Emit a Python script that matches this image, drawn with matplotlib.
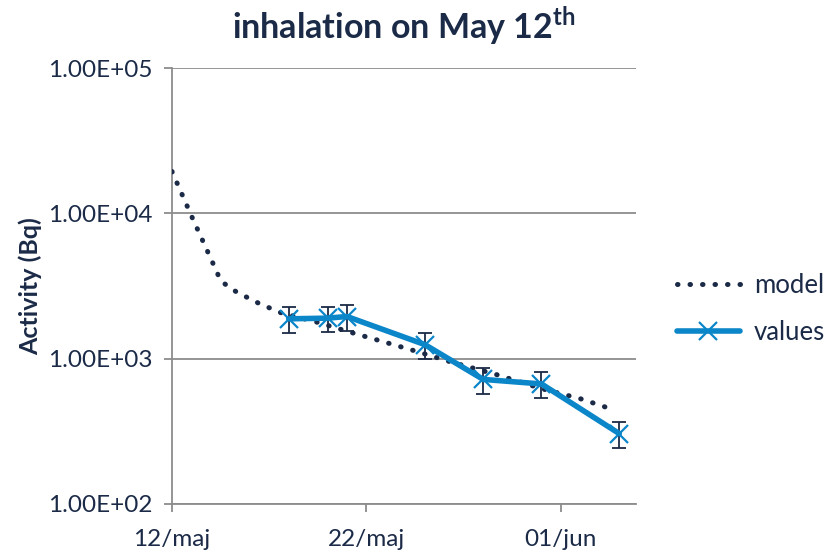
import numpy as np
import matplotlib
matplotlib.use("Agg")
import matplotlib.pyplot as plt
import matplotlib.dates as mdates
from datetime import datetime, timedelta

# model curve (days after 12 May, activity Bq)
model_days = [0, 1, 2, 2.5, 3, 3.4, 4.5, 5.6, 7.35, 9.1, 10.85, 12.6, 14.3, 16.7, 19, 21, 22.6]
model_vals = [19400, 9600, 4870, 3450, 3050, 2840, 2390, 2070, 1800, 1530, 1310, 1120, 953, 776, 622, 530, 450]

# measured values
meas_days = [6, 8, 9, 13, 16, 19, 23]
meas_vals = [1880, 1900, 1950, 1250, 720, 670, 305]
meas_err = [380, 380, 390, 250, 145, 135, 61]

start = datetime(2011, 5, 12)
mx = [start + timedelta(days=d) for d in model_days]
vx = [start + timedelta(days=d) for d in meas_days]

navy = "#1b2a47"
blue = "#0a86c9"
grey = "#8c8c8c"

plt.rcParams['font.family'] = ['Lato', 'DejaVu Sans']
plt.rcParams['mathtext.fontset'] = 'custom'
plt.rcParams['mathtext.bf'] = 'Lato:bold'
plt.rcParams['mathtext.rm'] = 'Lato'

fig = plt.figure(figsize=(8.25, 5.54), dpi=100)
ax = fig.add_axes([172/825, 50/554, 464/825, 436/554])

ax.plot(mx, model_vals, linestyle=(0, (0.1, 2.4)), dash_capstyle='round', color=navy, lw=3.6, label='model', zorder=3)
ax.errorbar(vx, meas_vals, yerr=meas_err, fmt='none', ecolor=navy, elinewidth=1.3, capsize=5, capthick=1.3, zorder=4)
ax.plot(vx, meas_vals, color=blue, lw=4, marker='x', markersize=13, markeredgewidth=1.6,
        markeredgecolor=blue, label='values', zorder=5, solid_capstyle='round')

ax.set_yscale('log')
ax.set_ylim(100, 100000)
ax.set_yticks([1e2, 1e3, 1e4, 1e5])
ax.set_yticklabels(['1.00E+02', '1.00E+03', '1.00E+04', '1.00E+05'])
ax.yaxis.set_minor_locator(matplotlib.ticker.NullLocator())
ax.set_xlim(start, start + timedelta(days=23.86))
xt = [start, start + timedelta(days=10), start + timedelta(days=20)]
ax.set_xticks(xt)
ax.set_xticklabels(['12/maj', '22/maj', '01/jun'])

ax.grid(axis='y', color=grey, lw=1.3)
ax.set_axisbelow(True)
for s in ['top', 'right']:
    ax.spines[s].set_visible(False)
for s in ['left', 'bottom']:
    ax.spines[s].set_color(grey)
    ax.spines[s].set_linewidth(1.3)
ax.tick_params(axis='both', colors=grey, labelcolor=navy, labelsize=17.5, length=6, width=1.3)
ax.tick_params(axis='x', pad=12)
ax.tick_params(axis='y', pad=8)

ax.set_ylabel('Activity (Bq)', fontsize=18, fontweight='bold', color=navy, labelpad=4)
ax.set_title(r'inhalation on May 12$^{\mathbf{th}}$', fontsize=24.5, fontweight='bold', color=navy, pad=21)

leg = ax.legend(loc='center left', bbox_to_anchor=(1.088, 0.447), frameon=False, fontsize=18.5,
                handlelength=2.45, labelspacing=0.85, handletextpad=0.55, borderaxespad=0, borderpad=0)
for t in leg.get_texts():
    t.set_color(navy)

fig.savefig('out.png', dpi=100)
